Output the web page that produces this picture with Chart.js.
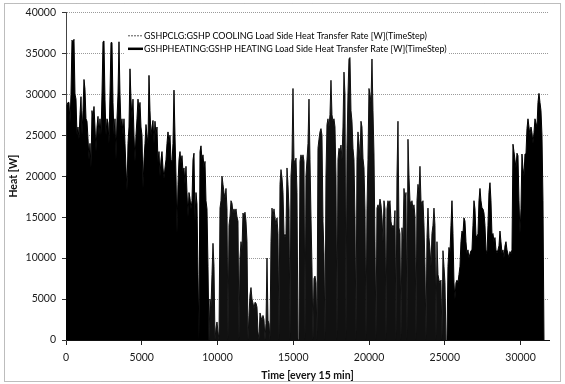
<!DOCTYPE html>
<html lang="en">
<head>
<meta charset="UTF-8" />
<title>GSHP Load Side Heat Transfer Rate</title>
<script src="https://cdn.jsdelivr.net/npm/chart.js@4.4.0/dist/chart.umd.min.js"></script>
<style>
  html, body { margin: 0; padding: 0; background: #fff; }
  #wrap { width: 565px; height: 384px; }
</style>
</head>
<body>
<div id="wrap"><canvas id="heatChart"></canvas></div>
<script>
// one sample ~ one pixel column of the original plot (66 time steps of 15 min)
const STEP = 66;

const seriesNames = [
  'GSHPCLG:GSHP COOLING Load Side Heat Transfer Rate [W](TimeStep)',
  'GSHPHEATING:GSHP HEATING Load Side Heat Transfer Rate [W](TimeStep)'
];

// heating, start of year (time step 0 ...)
const heatStartA = 0;
const heatA = [
  20000, 28700, 29000, 29000, 26500, 30000, 36600, 36300, 36700, 30000,
  29400, 25000, 26000, 24500, 27500, 29700, 25000, 28000, 31800, 30600,
  27000, 26700, 24600, 22000, 24000, 21000, 28000, 27000, 28500, 26000,
  23000, 26000, 27300, 25000, 27000, 25000, 30000, 36400, 36500, 29400,
  25000, 27000, 26500, 24000, 30000, 36300, 36300, 29000, 25000, 27000,
  22000, 27000, 30000, 36400, 30000, 26000, 27000, 25000, 27000, 24000,
  21000, 18200, 24000, 26000, 33100, 29400, 27000, 29400, 25000, 21800,
  25000, 27000, 29400, 28000, 29000, 26000, 25000, 18500, 22000, 24000,
  26300, 25000, 24000, 32300, 28000, 25000, 26000, 26800, 24000, 26700,
  25000, 26000, 21700, 23000, 20000, 22000, 23000, 21000, 19700, 21000,
  22000, 24000, 25400, 24000, 25000, 22000, 21700, 24000, 30500, 25000,
  20000, 13000, 19000, 22000, 23000, 21500, 22500, 20500, 21000, 19000,
  21200, 18000, 15000, 18000, 17300, 16000, 17000, 22000, 22800, 14500,
  18000, 16600, 8000, 0, 23000, 23700, 22000, 22600, 21000, 21800,
  17000, 16000, 9000, 0
];

// cooling, summer
const coolStart = 9438;
const cool = [
  0, 5000, 4000, 8000, 11800, 9000, 0, 1500, 2200, 1000,
  0, 16100, 17000, 20000, 19000, 18000, 17300, 18500, 16000, 0,
  14000, 15000, 17000, 16700, 15500, 16000, 15500, 16000, 15000, 14500,
  0, 10000, 12000, 11000, 15500, 15000, 15600, 14500, 12000, 0,
  3000, 5500, 6400, 5000, 4500, 3800, 4600, 4500, 4000, 1000,
  0, 3300, 2800, 2400, 3000, 2500, 0, 2000, 10000, 2400,
  2000, 0, 12000, 16100, 15000, 16000, 14900, 14000, 14900, 13000,
  0, 19000, 20800, 19800, 18000, 13000, 12500, 13000, 21000, 19000,
  16000, 0, 20000, 22200, 30700, 22000, 21500, 22200, 18000, 0,
  0, 21800, 22600, 22000, 22600, 21800, 0, 20000, 22000, 24000,
  29400, 22000, 15000, 8800, 0, 7500, 7800, 7000, 0, 23400,
  24500, 25400, 25800, 25000, 14500, 10500, 0, 20000, 26300, 27000,
  26000, 27500, 31700, 27500, 26700, 27000, 26000, 20000, 0, 22000,
  23400, 23000, 23800, 22000, 26000, 32700, 30000, 0, 23400, 30000,
  34300, 34500, 28000, 26700, 23400, 22000, 15000, 0, 22000, 25400,
  24000, 22000, 26700, 26000, 22200, 21000, 16000, 0, 16000, 22000,
  30700, 30000, 29000, 34300, 28000, 22700, 12000, 0, 16100, 16500,
  16000, 17200, 16500, 15000, 12000, 17000, 16000, 0, 16000, 17000,
  16500, 17000, 14500, 13700, 14000, 13700, 15800, 0, 20000, 26700,
  13700, 13000, 0, 13700, 12000, 18500, 17000, 18000, 0, 24500,
  20000, 17000, 16500, 17000, 16000, 16500, 15000, 0, 17000, 19000,
  18000, 21200, 17000, 16500, 17000, 14000, 9000, 0, 12500, 16100,
  12500, 11000, 9000, 13000, 14000, 16100, 14000, 0, 12000, 8000,
  7300, 7000, 7300, 0, 10900, 9000, 7000, 0
];

// heating, end of year
const heatStartB = 25146;
const heatB = [
  0, 9000, 11300, 10500, 14000, 17000, 13000, 7000, 5000, 7000,
  7300, 7000, 8000, 9000, 12000, 13300, 13000, 14900, 14500, 12000,
  10500, 11000, 10000, 10500, 10900, 11000, 14000, 17000, 16000, 12800,
  12500, 13000, 17000, 18500, 17000, 16100, 16000, 15500, 14000, 11000,
  10500, 14000, 18000, 19200, 17000, 12800, 13000, 12000, 12500, 11000,
  10600, 11000, 11500, 13300, 12000, 10600, 11000, 10000, 11500, 12000,
  11000, 10500, 10000, 10800, 10500, 11000, 23900, 23000, 22000, 21000,
  22800, 22500, 17000, 13000, 16000, 22700, 21000, 20000, 22700, 22700,
  25800, 27000, 26000, 25000, 26000, 25300, 24000, 25300, 27000, 26500,
  26000, 29000, 30100, 29000, 28000, 25000, 17000, 0
];

const yTicks = [0, 5000, 10000, 15000, 20000, 25000, 30000, 35000, 40000];
const xTicks = [0, 5000, 10000, 15000, 20000, 25000, 30000];
const xMax = 31880;

function toPoints(start, values) {
  return values.map((v, i) => ({ x: start + i * STEP, y: v }));
}

const heatPoints = toPoints(heatStartA, heatA)
  .concat([{ x: heatStartA + heatA.length * STEP, y: null }])
  .concat(toPoints(heatStartB, heatB));
const coolPoints = toPoints(coolStart, cool);

const FONT = "Lato, 'Liberation Sans', Arial, sans-serif";
Chart.defaults.font.family = FONT;
Chart.defaults.color = '#1a1a1a';

// dotted frame round the whole chart, like the spreadsheet chart border
const frame = {
  id: 'frame',
  beforeDraw(chart) {
    const ctx = chart.ctx;
    ctx.save();
    ctx.fillStyle = '#fff';
    ctx.fillRect(0, 0, chart.width, chart.height);
    ctx.strokeStyle = '#7a7a7a';
    ctx.lineWidth = 1;
    ctx.setLineDash([1, 1]);
    ctx.strokeRect(4.5, 3.5, chart.width - 9, chart.height - 6);
    ctx.restore();
  }
};

// legend sits inside the plot, top left, on a white box
const insideLegend = {
  id: 'insideLegend',
  afterDatasetsDraw(chart) {
    const ctx = chart.ctx;
    const area = chart.chartArea;
    const x0 = area.left + 59;
    const y0 = area.top + 17;
    ctx.save();
    ctx.fillStyle = '#fff';
    ctx.fillRect(x0, y0, 323, 28);

    ctx.font = '10px ' + FONT;
    const wide = ctx.measureText(seriesNames[1]).width;
    const size = Math.max(8, Math.min(12, 10 * 303 / wide));
    ctx.font = size + 'px ' + FONT;
    ctx.textBaseline = 'middle';
    ctx.fillStyle = '#000';

    const rows = [
      { y: y0 + 6.5, width: 1, color: '#555', dash: [2, 1] },
      { y: y0 + 19.5, width: 2.5, color: '#000', dash: [] }
    ];
    rows.forEach((r, i) => {
      ctx.beginPath();
      ctx.lineWidth = r.width;
      ctx.strokeStyle = r.color;
      ctx.setLineDash(r.dash);
      ctx.moveTo(x0 + 3, r.y);
      ctx.lineTo(x0 + 18, r.y);
      ctx.stroke();
      ctx.setLineDash([]);
      ctx.fillText(seriesNames[i], x0 + 19, r.y + 0.5);
    });
    ctx.restore();
  }
};

new Chart(document.getElementById('heatChart'), {
  type: 'line',
  data: {
    datasets: [
      {
        label: seriesNames[0],
        data: coolPoints,
        borderColor: '#111',
        backgroundColor: '#111',
        borderWidth: 1,
        fill: 'origin',
        pointRadius: 0,
        tension: 0
      },
      {
        label: seriesNames[1],
        data: heatPoints,
        borderColor: '#000',
        backgroundColor: '#000',
        borderWidth: 1,
        fill: 'origin',
        pointRadius: 0,
        tension: 0,
        spanGaps: false
      }
    ]
  },
  options: {
    responsive: true,
    maintainAspectRatio: false,
    animation: false,
    events: [],
    layout: { padding: { left: 4, right: 16, top: 10, bottom: 0 } },
    plugins: {
      legend: { display: false },
      tooltip: { enabled: false }
    },
    scales: {
      x: {
        type: 'linear',
        min: 0,
        max: xMax,
        afterBuildTicks: s => { s.ticks = xTicks.map(v => ({ value: v })); },
        afterFit: s => { s.height = 44; },
        ticks: {
          font: { size: 10.5 },
          color: '#1a1a1a',
          padding: 6,
          maxRotation: 0,
          callback: v => String(v)
        },
        grid: {
          drawOnChartArea: false,
          drawTicks: true,
          tickLength: 5,
          tickColor: '#222'
        },
        border: { display: true, color: '#111', width: 1 },
        title: {
          display: true,
          text: 'Time [every 15 min]',
          font: { size: 10.5, weight: 'bold' },
          color: '#111',
          padding: { top: 0, bottom: 2 }
        }
      },
      y: {
        min: 0,
        max: 40000,
        afterBuildTicks: s => { s.ticks = yTicks.map(v => ({ value: v })); },
        afterFit: s => { s.width = 62; },
        ticks: {
          font: { size: 10.5 },
          color: '#1a1a1a',
          padding: 6,
          callback: v => String(v)
        },
        grid: {
          color: '#9a9a9a',
          lineWidth: 1,
          drawTicks: true,
          tickLength: 4,
          tickColor: '#333',
          tickBorderDash: []
        },
        border: { display: true, color: '#444', width: 1, dash: [1, 1] },
        title: {
          display: true,
          text: 'Heat [W]',
          font: { size: 10.5, weight: 'bold' },
          color: '#111',
          padding: { top: 3, bottom: 0 }
        }
      }
    }
  },
  plugins: [frame, insideLegend]
});
</script>
</body>
</html>
